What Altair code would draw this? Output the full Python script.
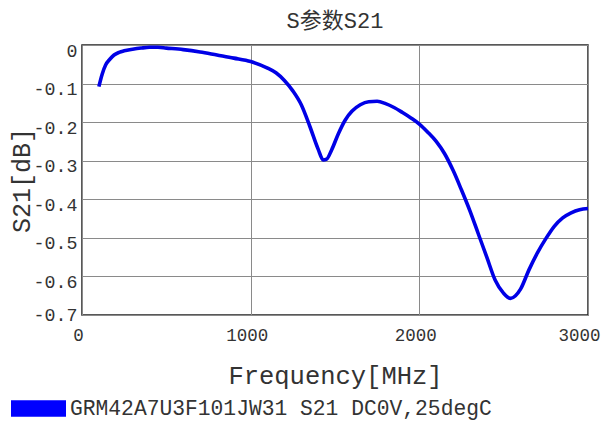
import altair as alt
import pandas as pd

freq_mhz = [100, 120, 140, 165, 190, 220, 250, 300, 350, 400, 450, 500, 600, 700,
            800, 900, 1000, 1100, 1150, 1200, 1250, 1300, 1350, 1400, 1430, 1450,
            1480, 1520, 1560, 1600, 1650, 1700, 1750, 1800, 1850, 1900, 1950, 2000,
            2050, 2100, 2150, 2200, 2250, 2300, 2350, 2400, 2450, 2500, 2540, 2570,
            2600, 2650, 2700, 2750, 2800, 2850, 2900, 2950, 3000]
s21_db = [-0.108, -0.075, -0.052, -0.037, -0.026, -0.019, -0.015, -0.011, -0.008,
          -0.006, -0.006, -0.008, -0.012, -0.018, -0.026, -0.034, -0.043, -0.060,
          -0.072, -0.092, -0.119, -0.155, -0.210, -0.270, -0.298, -0.296, -0.272,
          -0.230, -0.195, -0.172, -0.155, -0.147, -0.146, -0.152, -0.162, -0.175,
          -0.189, -0.205, -0.226, -0.250, -0.282, -0.325, -0.376, -0.430, -0.490,
          -0.550, -0.610, -0.644, -0.657, -0.650, -0.633, -0.583, -0.539, -0.502,
          -0.470, -0.448, -0.435, -0.427, -0.424]
series_name = "GRM42A7U3F101JW31 S21 DC0V,25degC"
x_ticks = [0, 1000, 2000, 3000]
y_ticks = [0, -0.1, -0.2, -0.3, -0.4, -0.5, -0.6, -0.7]

df = pd.DataFrame({"freq": freq_mhz, "s21": s21_db, "series": series_name})

FONT = "Liberation Mono, Noto Sans CJK SC"

chart = alt.Chart(df).mark_line(strokeWidth=3.6, interpolate="monotone").encode(
    x=alt.X("freq:Q", title="Frequency[MHz]",
            scale=alt.Scale(domain=[0, 3000], nice=False, zero=False),
            axis=alt.Axis(values=x_ticks, format="d", grid=True, ticks=False,
                          domain=False, labelAlign="center", labelPadding=11,
                          labelFontSize=17.5, labelFlush=False,
                          labelOffset={"expr": "datum.value >= 3000 ? -9 : -4"},
                          titlePadding=20, titleFontSize=25.5)),
    y=alt.Y("s21:Q", title="S21[dB]",
            scale=alt.Scale(domain=[-0.7, 0], nice=False, zero=False),
            axis=alt.Axis(values=y_ticks,
                          labelExpr="toString(round(datum.value*10)/10)",
                          labelOffset={"expr": "datum.value < -0.65 ? 0 : 6"},
                          grid=True, ticks=False, domain=False, labelPadding=5,
                          labelFontSize=18.3, labelFlush=False,
                          titleX=-61, titleY=135, titleBaseline="middle",
                          titleAlign="center", titleAngle=270)),
    color=alt.Color("series:N",
                    scale=alt.Scale(domain=[series_name], range=["#0000e6"]),
                    legend=alt.Legend(title=None, orient="none", legendX=-71,
                                      legendY=336, padding=0,
                                      symbolType="M-1,-0.3H1V0.3H-1Z",
                                      symbolSize=3025, symbolFillColor="#0000ff",
                                      symbolStrokeColor="#0000ff",
                                      symbolStrokeWidth=0, labelOffset=4,
                                      labelFont=FONT, labelFontSize=21.3,
                                      labelColor="#333333", labelLimit=0)),
).properties(
    width=506, height=270,
    title=alt.Title("S参数S21", font=FONT, fontSize=22, fontWeight="normal",
                    color="#333333", offset=7, anchor="middle"),
    autosize=alt.AutoSizeParams(type="none"),
    padding={"left": 74, "top": 37, "right": 14, "bottom": 105},
).configure_axis(
    labelFont=FONT, labelColor="#333333",
    titleFont=FONT, titleFontSize=25, titleFontWeight="normal", titleColor="#333333",
    gridColor="#8a8a8a", gridWidth=1, gridOpacity=1,
).configure_view(
    stroke="#222222", strokeWidth=1.5,
)

chart.save("out.html", embed_options={"renderer": "svg", "actions": False})
